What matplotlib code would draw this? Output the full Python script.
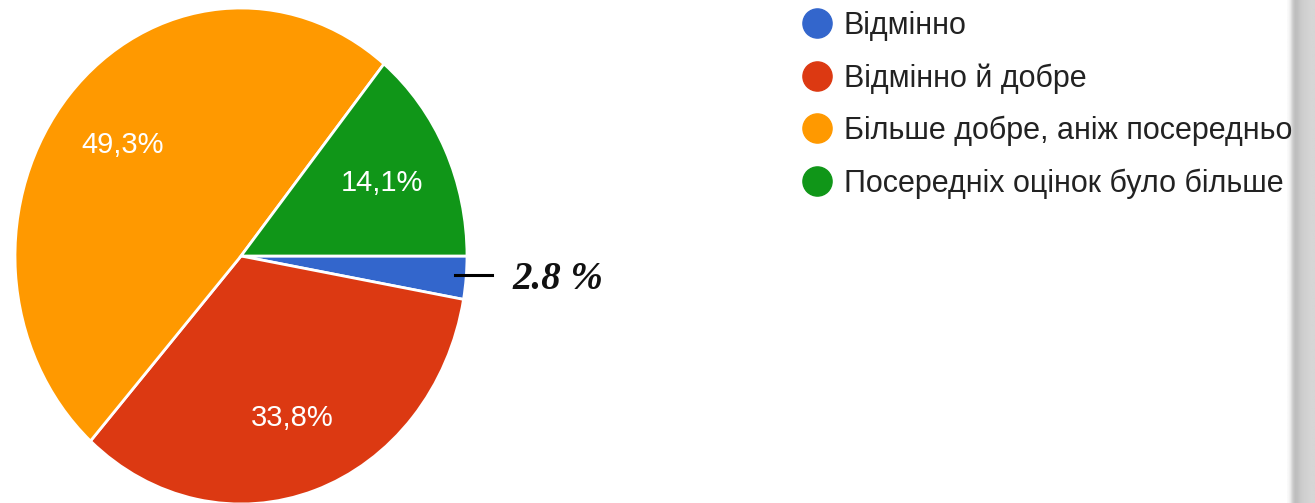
import numpy as np
import matplotlib.pyplot as plt
from matplotlib.lines import Line2D

labels = ["Відмінно", "Відмінно й добре", "Більше добре, аніж посередньо",
          "Посередніх оцінок було більше"]
values = [2.8, 33.8, 49.3, 14.1]
colors = ["#3366CC", "#DC3912", "#FF9900", "#109618"]
outside_label = "2.8 %"

plt.rcParams['font.family'] = ['Liberation Sans', 'DejaVu Sans']

fig = plt.figure(figsize=(13.15, 5.03), dpi=100)
fig.patch.set_facecolor('white')

# pie is a bit taller than wide in the reference, so no equal aspect
ax = fig.add_axes([15 / 1315, -0.002, 452 / 1315, 496 / 503])


def pct_label(p):
    if p < 5:
        return ""
    return f"{p:.1f}%".replace(".", ",")


wedges, texts, autotexts = ax.pie(
    values, colors=colors, startangle=0, counterclock=False,
    autopct=pct_label, pctdistance=0.69,
    wedgeprops=dict(edgecolor='white', linewidth=2),
    textprops=dict(color='white', fontsize=21))
ax.set_aspect('auto')
ax.set_xlim(-1, 1)
ax.set_ylim(-1, 1)
ax.axis('off')

# small slice gets an outside label with a short dash
w = wedges[0]
mid = np.deg2rad((w.theta1 + w.theta2) / 2)
y_mid = np.sin(mid) * 0.85
ax.plot([0.947, 1.11], [y_mid, y_mid], color='black', lw=2.2, clip_on=False)
ax.text(1.20, y_mid - 0.02, outside_label, fontsize=28, fontweight='bold',
        fontstyle='italic', family='Liberation Serif', va='center',
        ha='left', color='#111111', clip_on=False)

handles = [Line2D([], [], marker='o', linestyle='none', markersize=21,
                  markerfacecolor=c, markeredgecolor=c) for c in colors]
fig.legend(handles, labels, loc='upper left',
           bbox_to_anchor=(802 / 1315, 1 - 11 / 503), frameon=False,
           fontsize=22, handlelength=0.95, handletextpad=0.42,
           labelspacing=0.725, borderpad=0, borderaxespad=0,
           labelcolor='#222222')

# grey page-shadow strip on the right edge
sax = fig.add_axes([1287 / 1315, 0.0, 28 / 1315, 1.0])
shade = np.array([250, 235, 205, 190, 192, 200, 205, 208, 210, 212, 214, 214])
sax.imshow(np.tile(shade, (2, 1)), cmap='gray', vmin=0, vmax=255,
           aspect='auto', interpolation='bilinear')
sax.axis('off')

fig.savefig('out.png', dpi=100, facecolor='white')
